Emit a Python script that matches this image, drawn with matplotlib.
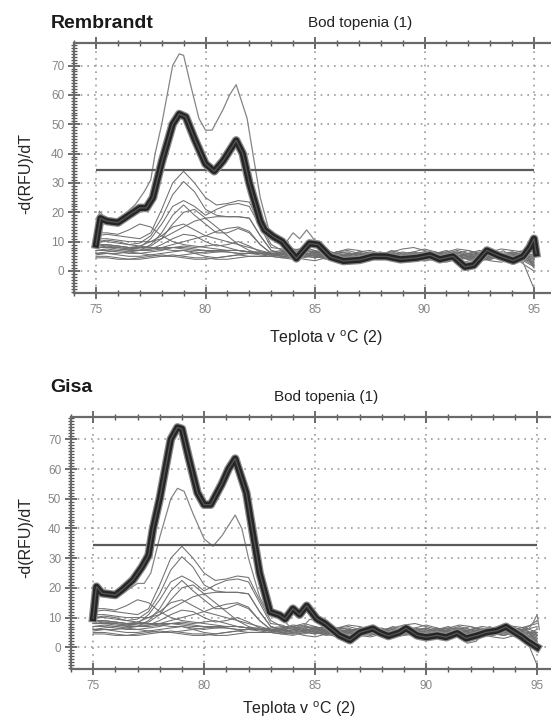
import matplotlib
matplotlib.use("Agg")
import matplotlib.pyplot as plt
import matplotlib.patheffects as pe
from matplotlib.ticker import MultipleLocator

plt.rcParams['font.family'] = ['Liberation Sans', 'DejaVu Sans']
plt.rcParams['mathtext.fontset'] = 'custom'
plt.rcParams['mathtext.rm'] = 'Liberation Sans'
plt.rcParams['mathtext.it'] = 'Liberation Sans'

# ---------------- data ----------------
TEMPS = [75.0, 75.5, 76.0, 76.5, 77.0, 77.5, 78.0, 78.5, 79.0, 79.5,
         80.0, 80.5, 81.0, 81.5, 82.0, 82.5, 83.0, 83.5, 84.0, 84.5,
         85.0, 85.5, 86.0, 86.5, 87.0, 87.5, 88.0, 88.5, 89.0, 89.5,
         90.0, 90.5, 91.0, 91.5, 92.0, 92.5, 93.0, 93.5, 94.0, 94.5, 95.0]

# background samples (thin grey curves, same in both panels)
bg_peak34 = [12, 12.5, 12, 11.5, 11, 13, 21, 30, 34, 30,
             25, 22.5, 23, 24, 23.5, 16, 9, 7, 6.5, 7.5,
             6, 5, 4.5, 5.5, 6, 5, 4.5, 5, 6, 5,
             4.5, 6, 7, 5.5, 5, 6, 5, 4.5, 6, 5, 3]
bg_peak30 = [10, 10.5, 10, 9, 9.5, 12, 18, 26, 30.5, 27,
             21, 19, 18.5, 18.5, 18, 12, 7, 6, 5.5, 6.5,
             7, 5.5, 4, 5, 6.5, 5.5, 6, 4.5, 5, 6,
             5, 4, 5.5, 6.5, 4.5, 5, 6.5, 5.5, 4, 6, 2]
bg_peak24 = [8, 8.5, 8, 7.5, 8, 11, 16, 22, 24, 22,
             19, 21, 22.5, 23, 22, 15, 8, 7.5, 6, 5.5,
             6.5, 7, 5.5, 4.5, 5, 6, 6.5, 5, 4, 5.5,
             6.5, 5, 4.5, 6, 7, 5.5, 4.5, 5, 6.5, 5.5, 4]
bg_peak22 = [7, 7.5, 7, 6.5, 7, 9, 13, 19, 22.5, 19,
             16, 13, 13, 14.5, 13, 9, 6, 5.5, 7, 6,
             5, 4.5, 6, 6.5, 5, 4.5, 5.5, 6, 5, 4,
             5.5, 6.5, 5, 4, 5, 6, 5, 4, 5.5, 6.5, 1]
bg_peak21 = [6, 6.5, 7, 7.5, 8, 8.5, 11, 16, 20, 21,
             18, 15, 12, 9, 7, 6, 5.5, 6.5, 5, 4.5,
             5.5, 6, 5, 3.5, 4, 5, 5.5, 4.5, 5, 6,
             4.5, 3.5, 5, 5.5, 4, 4.5, 6, 5, 4.5, 5, 5]
bg_peak16 = [9, 9, 8.5, 8, 8.5, 10, 12, 15, 16, 14,
             12, 11, 10, 9, 8, 7, 6, 5.5, 6, 7,
             6.5, 5, 4, 4.5, 5.5, 6.5, 5, 4, 4.5, 5.5,
             6, 5, 4, 4.5, 6, 6.5, 5, 4, 5, 4.5, 6]
bg_late = [11, 11, 10.5, 10, 10, 10, 11, 13, 15, 17,
           18, 18.5, 18.5, 18.5, 18, 12, 7, 6, 5, 5.5,
           6, 7, 6, 5, 4.5, 5, 6, 6.5, 5.5, 4.5,
           5, 6, 5, 4.5, 5.5, 6, 5.5, 5, 6, 7, 8]
bg_bump77 = [13, 13, 12.5, 14, 16, 15, 12, 10, 9, 8.5,
             8, 7.5, 7, 7, 6.5, 6, 6.5, 7, 6, 5,
             4.5, 5.5, 6.5, 7, 6, 5, 4.5, 5.5, 6.5, 5.5,
             5, 4.5, 6, 7, 6, 5, 4.5, 5.5, 6, 5, 3.5]
bg_peak15 = [9, 9, 8.5, 8, 7.5, 7.5, 8, 9, 10, 11,
             12, 13.5, 14.5, 15, 13.5, 9, 6, 5, 4.5, 5.5,
             6.5, 6, 5, 4, 4.5, 5.5, 6, 5, 4.5, 4,
             5, 6, 5.5, 4.5, 4, 5, 6, 5.5, 4.5, 5, 4]
bg_peak12 = [8, 8, 7.5, 7, 7, 7.5, 9, 11, 12.5, 12,
             10, 8.5, 9, 10, 8.5, 6.5, 5.5, 5, 5.5, 6.5,
             5.5, 4.5, 5, 6, 5.5, 4.5, 4, 5, 6, 6.5,
             5.5, 4.5, 4, 5, 6, 5.5, 4.5, 4, 5, 6, 7]
bg_flat8 = [8, 8, 8, 7.5, 7, 7, 7.5, 8, 8, 7.5,
            7, 7, 7, 7, 6.5, 6.5, 6, 6.5, 7, 6,
            5, 5.5, 6.5, 6, 5, 4.5, 5.5, 7, 6, 5,
            4.5, 5.5, 6.5, 6, 5, 4.5, 5, 6, 6.5, 5.5, 4.5]
bg_flat6 = [6, 6, 5.5, 5, 5, 5.5, 6, 6.5, 7, 6,
            5, 4.5, 5, 5.5, 6, 6, 5.5, 5, 4.5, 5.5,
            6.5, 5.5, 4.5, 5, 6, 5.5, 4.5, 4, 5, 6,
            6.5, 5.5, 4.5, 4, 4.5, 5.5, 6.5, 6, 5, 4, 2]
bg_flat5 = [5, 5, 4.5, 4, 4.5, 5, 5.5, 5, 4.5, 4,
            4, 4.5, 5, 5.5, 5, 5, 5, 4.5, 4, 5,
            5.5, 4.5, 3.5, 3, 4, 5, 4.5, 3.5, 4, 5,
            4.5, 3.5, 3, 4, 5, 4.5, 3.5, 3, 4, 3, -6]
bg_fall10 = [10, 10, 9.5, 9, 8.5, 8, 7.5, 7, 7, 6.5,
             6, 6.5, 7, 7, 6.5, 6, 5.5, 6, 7, 8,
             7, 6, 5, 5.5, 6.5, 7, 6, 5, 5.5, 6.5,
             7.5, 6.5, 5.5, 5, 6, 7, 6.5, 5.5, 5, 6.5, 9]
bg_bump80 = [7, 7, 6.5, 6, 6, 6.5, 7, 8, 8.5, 8,
             8.5, 9, 8, 7, 6.5, 6, 5.5, 6, 6.5, 5.5,
             4.5, 5, 6, 5.5, 4.5, 4, 5, 6, 5.5, 4.5,
             4, 5, 6, 6.5, 5.5, 4.5, 4, 5, 5.5, 4.5, 2.5]
bg_flat45 = [4.5, 4.5, 4, 4, 4, 4.5, 5, 5.5, 5, 4.5,
             4.5, 4, 4, 4.5, 5, 5, 5, 5.5, 5, 4,
             3.5, 4.5, 5.5, 5, 4, 3.5, 4.5, 5.5, 5, 4,
             3.5, 4.5, 5.5, 5, 4, 3.5, 4, 5, 4.5, 3.5, 1.5]
bg_band9 = [9, 8.5, 8.5, 8, 8, 8, 8, 8, 7.5, 7,
            7, 6.5, 6.5, 6, 6, 6, 6, 6.5, 7.5, 7,
            6, 5.5, 6.5, 7.5, 7, 6, 5.5, 6.5, 7.5, 8,
            7, 6, 6.5, 7.5, 7, 6, 6.5, 7.5, 7, 6.5, 5]
bg_flat55 = [5.5, 6, 6, 6.5, 6, 5.5, 5, 5, 5.5, 6,
             6.5, 7, 6.5, 6, 6, 5.5, 5, 4.5, 5, 6,
             5, 4, 4.5, 5.5, 6, 5, 4, 4.5, 5.5, 5,
             4, 4.5, 5.5, 5, 4, 3.5, 4.5, 5.5, 5, 4, 3]

BACKGROUND = [bg_peak34, bg_peak30, bg_peak24, bg_peak22, bg_peak21, bg_peak16,
              bg_late, bg_bump77, bg_peak15, bg_peak12, bg_flat8, bg_flat6,
              bg_flat5, bg_fall10, bg_bump80, bg_flat45, bg_band9, bg_flat55]

# highlighted curves
REM_T = [75.0, 75.2, 75.5, 76.0, 76.5, 77.0, 77.3, 77.6, 78.0, 78.5,
         78.8, 79.1, 79.5, 80.0, 80.4, 80.8, 81.4, 81.7, 82.0, 82.5,
         82.7, 83.1, 83.5, 84.15, 84.75, 85.15, 85.7, 86.3, 87.05, 87.65,
         88.25, 88.9, 89.65, 90.25, 90.7, 91.3, 91.85, 92.25, 92.85, 93.45,
         94.05, 94.5, 94.8, 95.0, 95.1]
REM_Y = [9, 18, 17, 16.5, 19, 21.5, 21.5, 25, 37, 50,
         53.5, 52.5, 45, 36.5, 34, 37.5, 44.5, 40, 30, 17,
         14, 11.7, 10, 4.3, 9.4, 9, 4.8, 3.4, 3.8, 5,
         5, 4, 4.5, 5.4, 4, 5, 1.4, 2, 7, 5,
         3.5, 5, 8, 11, 6]

GISA_T = [75.0, 75.15, 75.4, 76.0, 76.3, 76.8, 77.2, 77.5, 77.7, 78.0,
          78.5, 78.8, 79.0, 79.3, 79.7, 80.0, 80.3, 80.8, 81.1, 81.4,
          81.9, 82.2, 82.5, 82.97, 83.4, 83.65, 84.0, 84.3, 84.62, 85.07,
          85.45, 86.1, 86.57, 87.02, 87.6, 87.9, 88.3, 88.8, 89.1, 89.6,
          90.0, 90.5, 90.9, 91.4, 91.8, 92.3, 92.7, 93.2, 93.6, 94.0,
          94.3, 94.6, 95.0]
GISA_Y = [9.8, 20.4, 18.2, 17.6, 19.3, 22.7, 27, 31, 40, 50,
          70, 74, 73.5, 64, 52, 48, 48, 55, 60, 63.5,
          52, 38.4, 25, 11.9, 10.8, 9.5, 13, 11, 14, 9.6,
          8, 4, 2.4, 5, 6.3, 5, 3.8, 5, 6.4, 4,
          3.4, 4, 3.4, 4.8, 3, 4, 5, 5.6, 6.9, 5,
          3.6, 1.9, 0]

THRESHOLD = 34.5
PANELS = [("Rembrandt", REM_T, REM_Y, GISA_T, GISA_Y),
          ("Gisa", GISA_T, GISA_Y, REM_T, REM_Y)]

# ---------------- layout ----------------
W, H = 551, 720
fig = plt.figure(figsize=(W / 100, H / 100), dpi=100)


def px(x, y):
    return x / W, 1 - y / H


# (left px, top px, right px, bottom px, ylim)
AX_BOXES = [(74.1, 42.7, 555.9, 293.3, (-7.6, 77.8)),
            (70.9, 416.7, 559.3, 669.3, (-7.4, 77.6))]
TXT = [dict(title=(51, 23), sub=(360, 23), ylab=(26, 173), xlab=(326, 338)),
       dict(title=(50, 387), sub=(326, 397), ylab=(26, 537), xlab=(299, 709))]

GREY = '#6f6f6f'
for (name, bt, by, ot, oy), (l, t, r, b, ylim), tx in zip(PANELS, AX_BOXES, TXT):
    ax = fig.add_axes([l / W, 1 - b / H, (r - l) / W, (b - t) / H])
    ax.set_xlim(74, 96)
    ax.set_ylim(*ylim)
    ax.set_xticks([75, 80, 85, 90, 95])
    ax.set_yticks([0, 10, 20, 30, 40, 50, 60, 70])
    ax.xaxis.set_minor_locator(MultipleLocator(1))
    ax.yaxis.set_minor_locator(MultipleLocator(1))
    ax.grid(True, which='major', color='#9a9a9a', linestyle=(0, (1, 3)), lw=1.2)
    ax.tick_params(axis='x', which='major', direction='inout', length=8, width=1.2,
                   color='#555555', labelsize=8.5, labelcolor='#858585', pad=4,
                   top=True)
    ax.tick_params(axis='x', which='minor', direction='inout', length=5, width=1.0,
                   color='#555555', top=True)
    ax.tick_params(axis='y', which='major', direction='inout', length=8, width=1.2,
                   color='#555555', labelsize=8.5, labelcolor='#858585', pad=3)
    ax.tick_params(axis='y', which='minor', direction='inout', length=4, width=0.9,
                   color='#555555')
    for s in ax.spines.values():
        s.set_color('#6a6a6a')
        s.set_linewidth(1.6)

    for curve in BACKGROUND:
        ax.plot(TEMPS, curve, color=GREY, lw=0.75, zorder=2)
    ax.plot(ot, oy, color='#858585', lw=0.9, zorder=2)
    ax.hlines(THRESHOLD, 75, 95, color='#5a5a5a', lw=1.6, zorder=3)
    ax.plot(bt, by, color='#262626', lw=4.4, zorder=4, solid_joinstyle='round',
            path_effects=[pe.Stroke(linewidth=6.2, foreground='#8a8a8a'), pe.Normal()])
    ax.plot(bt, by, color='#555555', lw=0.9, zorder=5, solid_joinstyle='round')

    fig.text(*px(*tx['title']), name, fontsize=14, fontweight='bold',
             ha='left', va='center', color='#1a1a1a')
    fig.text(*px(*tx['sub']), "Bod topenia (1)", fontsize=11, ha='center',
             va='center', color='#222222')
    fig.text(*px(*tx['ylab']), "-d(RFU)/dT", fontsize=11.5, ha='center',
             va='center', rotation=90, color='#222222')
    fig.text(*px(*tx['xlab']), r"Teplota v $^{\mathrm{o}}$C (2)", fontsize=11.5,
             ha='center', va='center', color='#222222')

fig.savefig("out.png", dpi=100)
